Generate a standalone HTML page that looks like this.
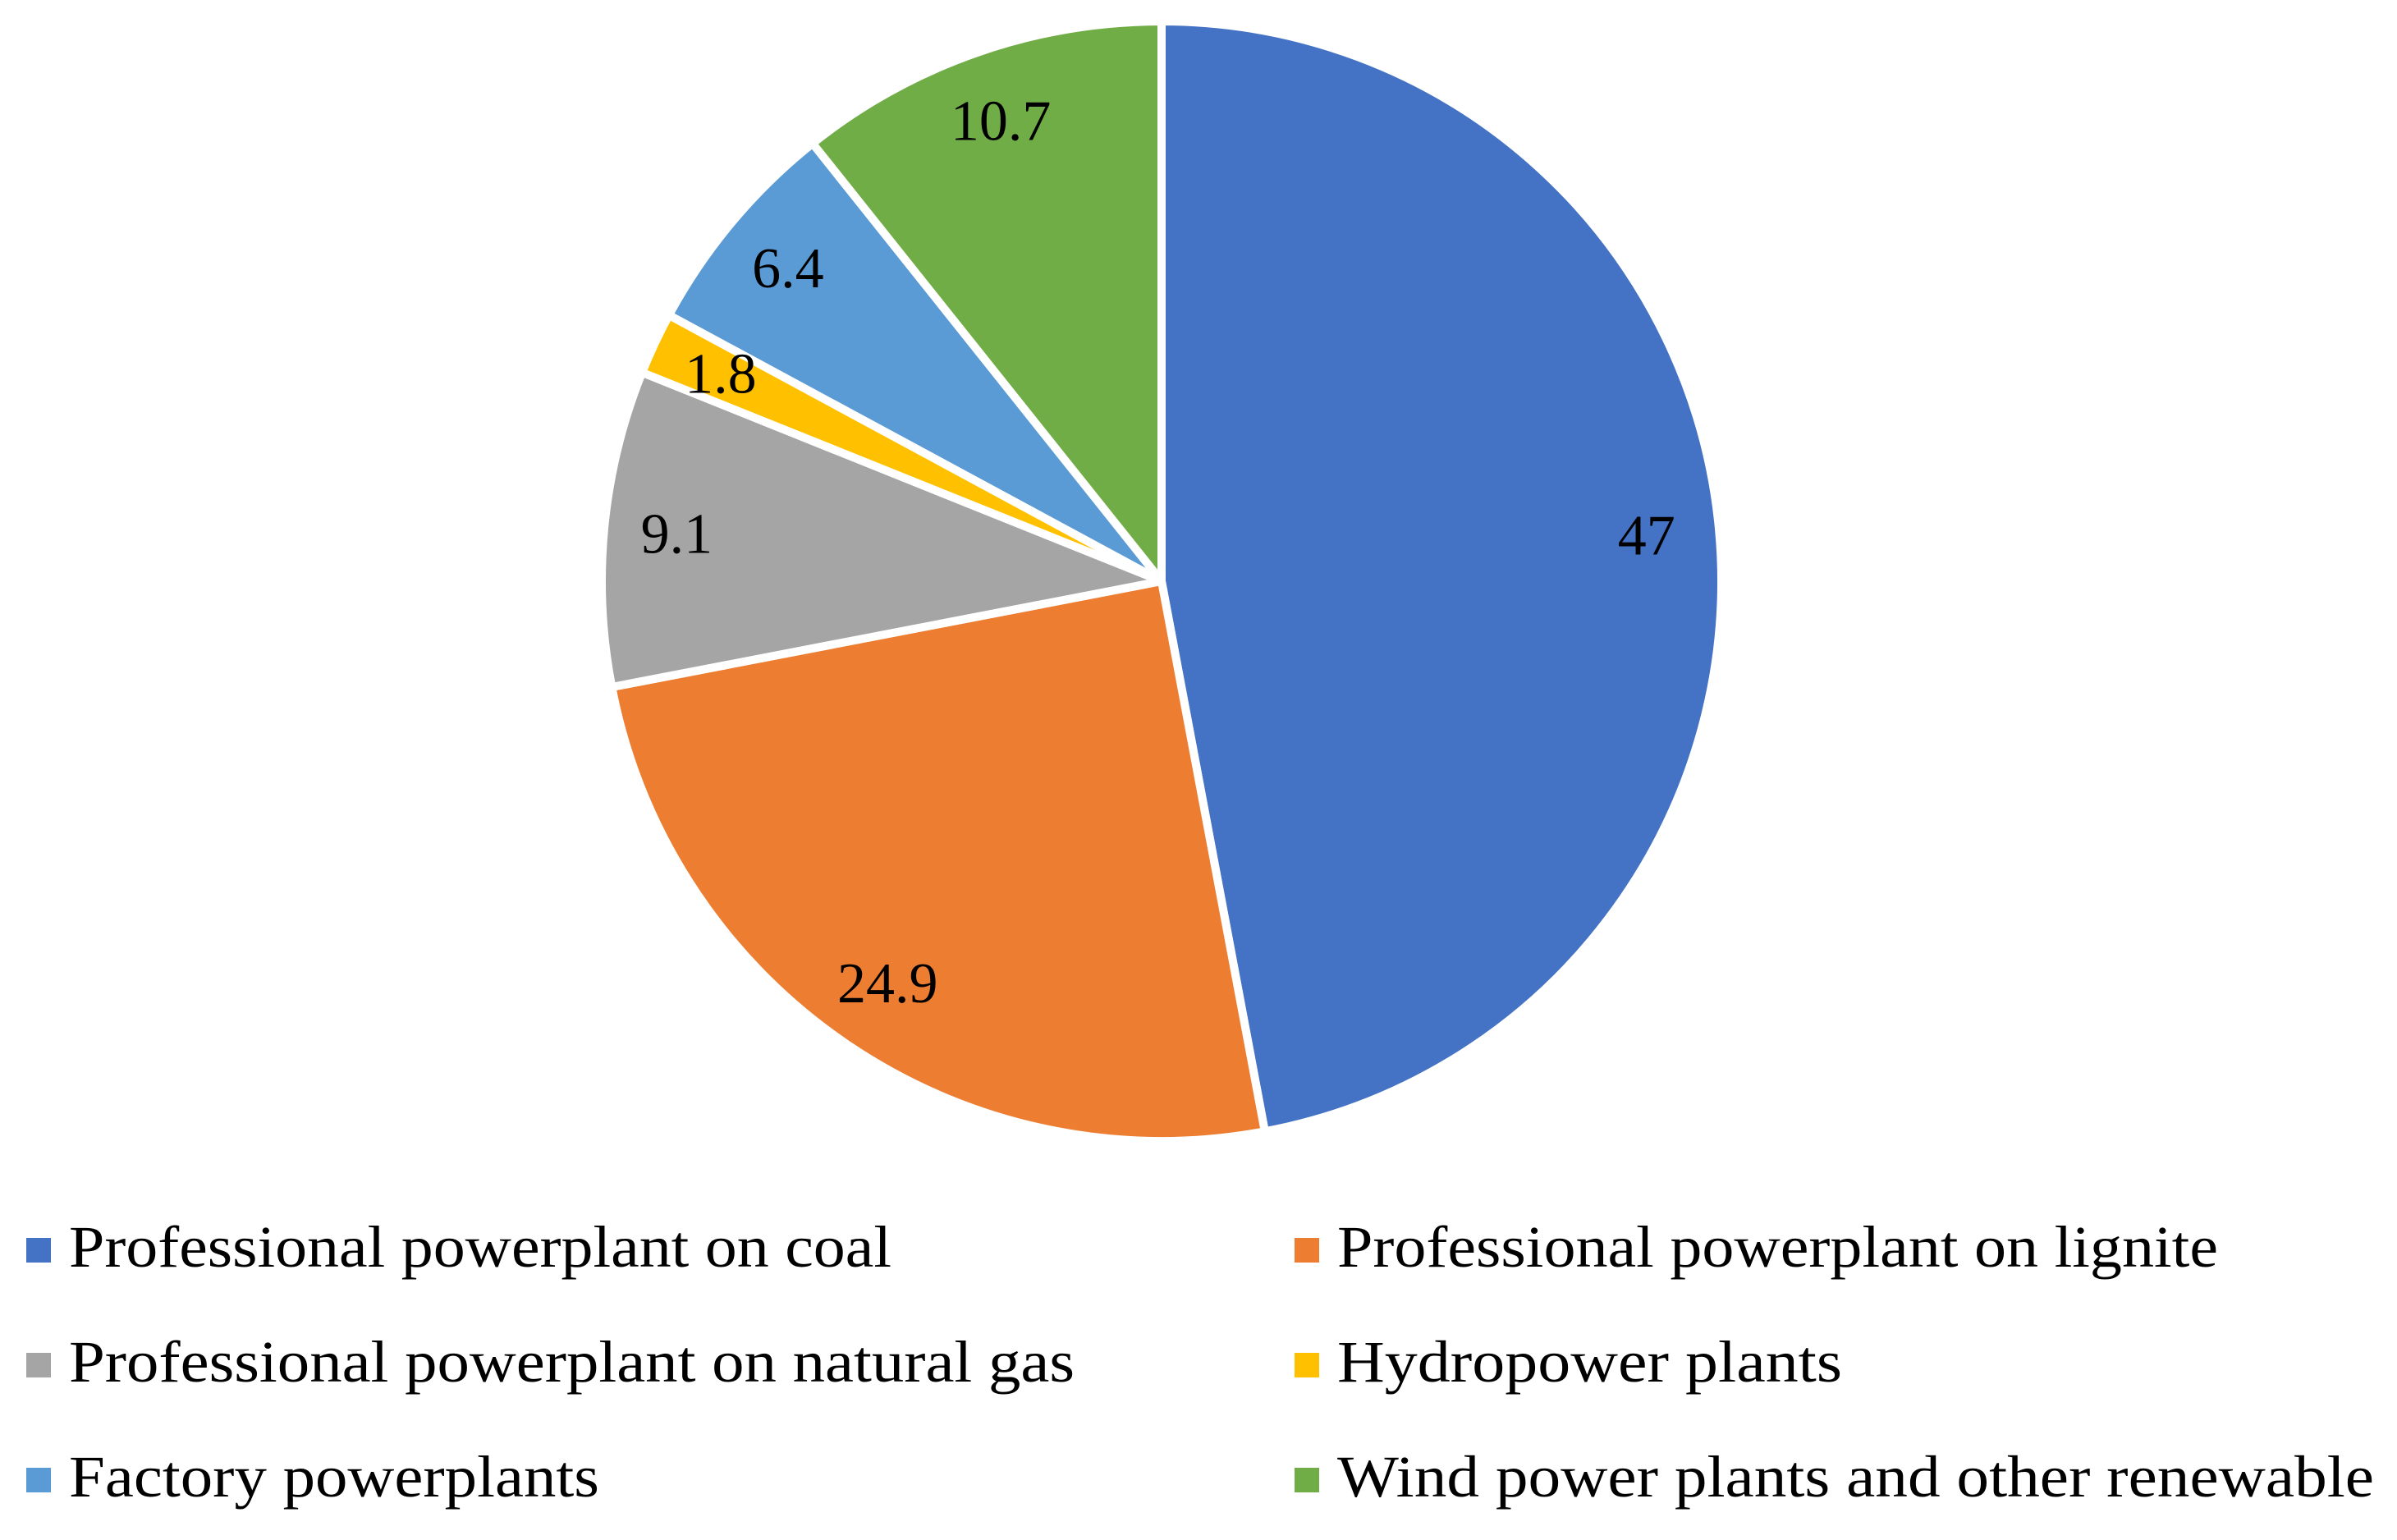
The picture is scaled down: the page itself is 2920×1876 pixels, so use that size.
<!DOCTYPE html>
<html><head><meta charset="utf-8">
<style>
html,body{margin:0;padding:0;background:#fff;}
svg{display:block;}
text{font-family:"Liberation Serif",serif;fill:#000;}
</style></head>
<body>
<svg id="chart" width="2920" height="1876" viewBox="0 0 2920 1876" xmlns="http://www.w3.org/2000/svg">
<g id="slices"></g>
<g id="labels"></g>
<g id="legend"></g>
</svg>
<script>
const categories = ["Professional powerplant on coal","Professional powerplant on lignite","Professional powerplant on natural gas","Hydropower plants","Factory powerplants","Wind power plants and other renewable"];
const values = [47, 24.9, 9.1, 1.8, 6.4, 10.7];
const valueLabels = ["47","24.9","9.1","1.8","6.4","10.7"];
const colors = ["#4472c4","#ed7d31","#a5a5a5","#ffc000","#5b9bd5","#70ad47"];

const NS = "http://www.w3.org/2000/svg";
const cx = 1415, cy = 708, R = 682;
const total = values.reduce((a,b)=>a+b,0);
const sg = document.getElementById('slices');
const lg = document.getElementById('labels');
const leg = document.getElementById('legend');
function pt(frac, r){ const a = frac*2*Math.PI; return [cx + r*Math.sin(a), cy - r*Math.cos(a)]; }
let acc = 0;
values.forEach((v,i)=>{
  const f0 = acc/total, f1 = (acc+v)/total; acc += v;
  const [x0,y0] = pt(f0,R), [x1,y1] = pt(f1,R);
  const large = (f1-f0) > 0.5 ? 1 : 0;
  const p = document.createElementNS(NS,'path');
  p.setAttribute('d', `M${cx},${cy} L${x0},${y0} A${R},${R} 0 ${large} 1 ${x1},${y1} Z`);
  p.setAttribute('fill', colors[i]);
  p.setAttribute('stroke', '#fff');
  p.setAttribute('stroke-width', '10');
  p.setAttribute('stroke-linejoin', 'round');
  
  
  sg.appendChild(p);
  const [lx,ly] = pt((f0+f1)/2, R*0.87);
  const t = document.createElementNS(NS,'text');
  t.setAttribute('x', lx); t.setAttribute('y', ly);
  t.setAttribute('text-anchor','middle');
  t.setAttribute('dominant-baseline','central');
  t.setAttribute('font-size','70');
  t.textContent = valueLabels[i];
  
  
  lg.appendChild(t);
});
const legendX = [32, 1577];
const legendY = [1543, 1683, 1823];
const legendW = [1002, 1073, 1225, 615, 646, 1263];
categories.forEach((c,i)=>{
  const col = i%2, row = Math.floor(i/2);
  const g = document.createElementNS(NS,'g');
  
  
  const r = document.createElementNS(NS,'rect');
  r.setAttribute('x', legendX[col]); r.setAttribute('y', legendY[row]-35);
  r.setAttribute('width', 30); r.setAttribute('height', 30);
  r.setAttribute('fill', colors[i]);
  
  
  g.appendChild(r);
  const t = document.createElementNS(NS,'text');
  t.setAttribute('x', legendX[col]+52); t.setAttribute('y', legendY[row]);
  t.setAttribute('font-size','72');
  t.setAttribute('textLength', legendW[i]);
  t.setAttribute('lengthAdjust','spacingAndGlyphs');
  t.textContent = c;
  
  
  g.appendChild(t);
  leg.appendChild(g);
});
</script>
</body></html>
